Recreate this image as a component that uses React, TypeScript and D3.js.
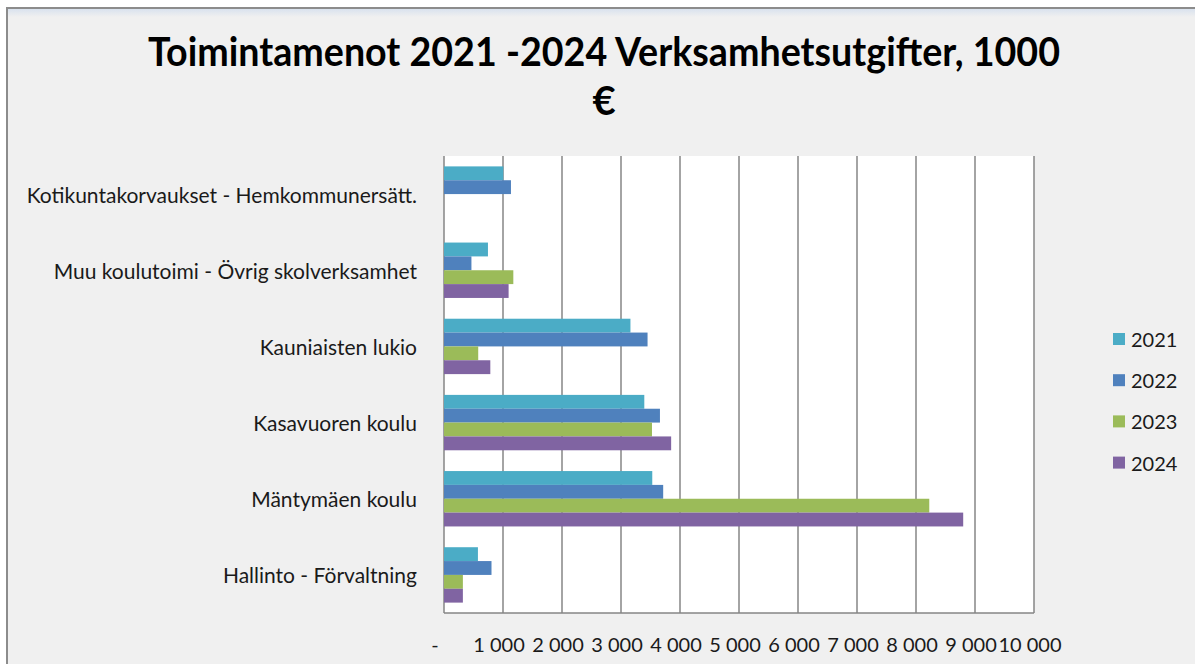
import React, { useEffect } from "react";
import * as d3 from "d3";

const categories = [
  "Kotikuntakorvaukset - Hemkommunersätt.",
  "Muu koulutoimi - Övrig skolverksamhet",
  "Kauniaisten lukio",
  "Kasavuoren koulu",
  "Mäntymäen koulu",
  "Hallinto - Förvaltning",
];
const seriesNames = ["2021", "2022", "2023", "2024"];
const v2021 = [1005, 745, 3160, 3395, 3530, 575];
const v2022 = [1135, 465, 3450, 3660, 3715, 805];
const v2023: (number | null)[] = [null, 1175, 580, 3525, 8225, 320];
const v2024: (number | null)[] = [null, 1095, 785, 3850, 8800, 320];
const xTicks = [0, 1000, 2000, 3000, 4000, 5000, 6000, 7000, 8000, 9000, 10000];
const colors = ["#4bacc6", "#4f81bd", "#9bbb59", "#8064a2"];
const titleLines = ["Toimintamenot 2021 -2024 Verksamhetsutgifter, 1000", "€"];

const W = 1195;
const H = 664;
const FONT = "Lato, 'Open Sans', sans-serif";

export default function App() {
  useEffect(() => {
    document.body.style.margin = "0";
  }, []);

  const series = [v2021, v2022, v2023, v2024];
  const x = d3.scaleLinear().domain([0, 10000]).range([444, 1034]);
  const y = d3.scaleBand<string>().domain(categories).range([156, 613]).paddingInner(0).paddingOuter(0);
  const bw = y.bandwidth();
  const barH = bw / 5.5;
  const offset = (bw - 4 * barH) / 2;
  const inner = d3.scaleBand<string>().domain(seriesNames).range([offset, offset + 4 * barH]);
  const fmt = (v: number) => (v === 0 ? "-" : d3.format(",")(v).replace(/,/g, " "));

  return (
    <svg width={W} height={H} style={{ display: "block" }} fontFamily={FONT}>
      <defs>
        <linearGradient id="topg" x1="0" y1="0" x2="0" y2="1">
          <stop offset="0" stopColor="#d9e2ee" />
          <stop offset="1" stopColor="#f0f0f0" />
        </linearGradient>
      </defs>
      <rect x={0} y={0} width={W} height={H} fill="#ffffff" />
      <rect x={7} y={8} width={W + 10} height={H + 10} fill="#f0f0f0" stroke="#8c8c8c" strokeWidth={2} />
      <rect x={8} y={9} width={W} height={8} fill="url(#topg)" />

      {titleLines.map((t, i) => (
        <text
          key={i}
          x={604}
          y={66 + i * 49}
          textAnchor="middle"
          fontSize={40}
          fontWeight="bold"
          fill="#000"
          {...(i === 0 ? { textLength: 912, lengthAdjust: "spacingAndGlyphs" } : {})}
        >
          {t}
        </text>
      ))}

      <rect x={x(0)} y={156} width={x(10000) - x(0)} height={613 - 156} fill="#ffffff" />

      {xTicks.map((t) => (
        <line key={t} x1={x(t)} x2={x(t)} y1={156} y2={613} stroke="#868686" strokeWidth={1.5} />
      ))}
      <line x1={x(0)} x2={x(10000)} y1={613} y2={613} stroke="#868686" strokeWidth={1.5} />

      {categories.map((c, ci) =>
        series.map((s, si) => {
          const v = s[ci];
          if (v == null) return null;
          return (
            <rect
              key={c + si}
              x={x(0)}
              y={(y(c) as number) + (inner(seriesNames[si]) as number)}
              width={x(v) - x(0)}
              height={barH}
              fill={colors[si]}
            />
          );
        })
      )}

      {categories.map((c) => (
        <text
          key={c}
          x={417}
          y={(y(c) as number) + bw / 2}
          textAnchor="end"
          dominantBaseline="central"
          fontSize={21}
          fill="#1a1a1a"
        >
          {c}
        </text>
      ))}

      {xTicks.map((t) => (
        <text
          key={t}
          x={t === 0 ? x(t) - 9 : x(t) - 4}
          y={644}
          textAnchor="middle"
          dominantBaseline="central"
          fontSize={20}
          fill="#1a1a1a"
        >
          {fmt(t)}
        </text>
      ))}

      {seriesNames.map((n, i) => (
        <g key={n} transform={`translate(1113, ${339 + i * 41.2})`}>
          <rect x={0} y={-6} width={12} height={12} fill={colors[i]} />
          <text x={18} y={0} dominantBaseline="central" fontSize={20} fill="#1a1a1a">
            {n}
          </text>
        </g>
      ))}
    </svg>
  );
}
